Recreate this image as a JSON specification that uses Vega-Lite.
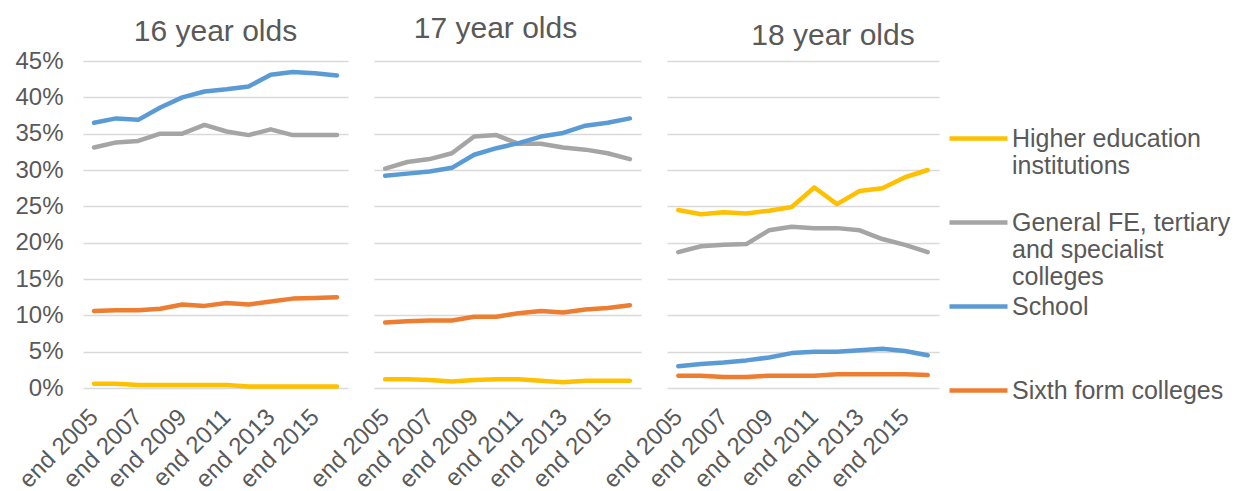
{
  "$schema": "https://vega.github.io/schema/vega-lite/v6.json",
  "background": "white",
  "padding": {"left": 14, "top": 14, "right": 5, "bottom": 0},
  "bounds": "flush",
  "spacing": 26,
  "config": {
    "view": {"stroke": null},
    "font": "Liberation Sans",
    "title": {"fontSize": 30, "fontWeight": "normal", "color": "#595959", "baseline": "alphabetic", "anchor": "middle"},
    "axis": {"labelFont": "Liberation Sans", "labelFontSize": 24, "labelColor": "#595959", "title": null, "ticks": false, "domain": false},
    "line": {"strokeWidth": 4.5, "strokeCap": "round", "strokeJoin": "round"}
  },
  "datasets": {
    "enrolment": [
      {"age": 16, "year": "end 2005", "type": "Higher education institutions", "share": 0.6},
      {"age": 16, "year": "end 2006", "type": "Higher education institutions", "share": 0.6},
      {"age": 16, "year": "end 2007", "type": "Higher education institutions", "share": 0.4},
      {"age": 16, "year": "end 2008", "type": "Higher education institutions", "share": 0.4},
      {"age": 16, "year": "end 2009", "type": "Higher education institutions", "share": 0.4},
      {"age": 16, "year": "end 2010", "type": "Higher education institutions", "share": 0.4},
      {"age": 16, "year": "end 2011", "type": "Higher education institutions", "share": 0.4},
      {"age": 16, "year": "end 2012", "type": "Higher education institutions", "share": 0.2},
      {"age": 16, "year": "end 2013", "type": "Higher education institutions", "share": 0.2},
      {"age": 16, "year": "end 2014", "type": "Higher education institutions", "share": 0.2},
      {"age": 16, "year": "end 2015", "type": "Higher education institutions", "share": 0.2},
      {"age": 16, "year": "end 2016", "type": "Higher education institutions", "share": 0.2},
      {"age": 16, "year": "end 2005", "type": "General FE, tertiary and specialist colleges", "share": 33.1},
      {"age": 16, "year": "end 2006", "type": "General FE, tertiary and specialist colleges", "share": 33.8},
      {"age": 16, "year": "end 2007", "type": "General FE, tertiary and specialist colleges", "share": 34.0},
      {"age": 16, "year": "end 2008", "type": "General FE, tertiary and specialist colleges", "share": 35.0},
      {"age": 16, "year": "end 2009", "type": "General FE, tertiary and specialist colleges", "share": 35.0},
      {"age": 16, "year": "end 2010", "type": "General FE, tertiary and specialist colleges", "share": 36.2},
      {"age": 16, "year": "end 2011", "type": "General FE, tertiary and specialist colleges", "share": 35.3},
      {"age": 16, "year": "end 2012", "type": "General FE, tertiary and specialist colleges", "share": 34.8},
      {"age": 16, "year": "end 2013", "type": "General FE, tertiary and specialist colleges", "share": 35.6},
      {"age": 16, "year": "end 2014", "type": "General FE, tertiary and specialist colleges", "share": 34.8},
      {"age": 16, "year": "end 2015", "type": "General FE, tertiary and specialist colleges", "share": 34.8},
      {"age": 16, "year": "end 2016", "type": "General FE, tertiary and specialist colleges", "share": 34.8},
      {"age": 16, "year": "end 2005", "type": "School", "share": 36.5},
      {"age": 16, "year": "end 2006", "type": "School", "share": 37.1},
      {"age": 16, "year": "end 2007", "type": "School", "share": 36.9},
      {"age": 16, "year": "end 2008", "type": "School", "share": 38.6},
      {"age": 16, "year": "end 2009", "type": "School", "share": 40.0},
      {"age": 16, "year": "end 2010", "type": "School", "share": 40.8},
      {"age": 16, "year": "end 2011", "type": "School", "share": 41.1},
      {"age": 16, "year": "end 2012", "type": "School", "share": 41.5},
      {"age": 16, "year": "end 2013", "type": "School", "share": 43.1},
      {"age": 16, "year": "end 2014", "type": "School", "share": 43.5},
      {"age": 16, "year": "end 2015", "type": "School", "share": 43.3},
      {"age": 16, "year": "end 2016", "type": "School", "share": 43.0},
      {"age": 16, "year": "end 2005", "type": "Sixth form colleges", "share": 10.6},
      {"age": 16, "year": "end 2006", "type": "Sixth form colleges", "share": 10.7},
      {"age": 16, "year": "end 2007", "type": "Sixth form colleges", "share": 10.7},
      {"age": 16, "year": "end 2008", "type": "Sixth form colleges", "share": 10.9},
      {"age": 16, "year": "end 2009", "type": "Sixth form colleges", "share": 11.5},
      {"age": 16, "year": "end 2010", "type": "Sixth form colleges", "share": 11.3},
      {"age": 16, "year": "end 2011", "type": "Sixth form colleges", "share": 11.7},
      {"age": 16, "year": "end 2012", "type": "Sixth form colleges", "share": 11.5},
      {"age": 16, "year": "end 2013", "type": "Sixth form colleges", "share": 11.9},
      {"age": 16, "year": "end 2014", "type": "Sixth form colleges", "share": 12.3},
      {"age": 16, "year": "end 2015", "type": "Sixth form colleges", "share": 12.4},
      {"age": 16, "year": "end 2016", "type": "Sixth form colleges", "share": 12.5},

      {"age": 17, "year": "end 2005", "type": "Higher education institutions", "share": 1.2},
      {"age": 17, "year": "end 2006", "type": "Higher education institutions", "share": 1.2},
      {"age": 17, "year": "end 2007", "type": "Higher education institutions", "share": 1.1},
      {"age": 17, "year": "end 2008", "type": "Higher education institutions", "share": 0.9},
      {"age": 17, "year": "end 2009", "type": "Higher education institutions", "share": 1.1},
      {"age": 17, "year": "end 2010", "type": "Higher education institutions", "share": 1.2},
      {"age": 17, "year": "end 2011", "type": "Higher education institutions", "share": 1.2},
      {"age": 17, "year": "end 2012", "type": "Higher education institutions", "share": 1.0},
      {"age": 17, "year": "end 2013", "type": "Higher education institutions", "share": 0.8},
      {"age": 17, "year": "end 2014", "type": "Higher education institutions", "share": 1.0},
      {"age": 17, "year": "end 2015", "type": "Higher education institutions", "share": 1.0},
      {"age": 17, "year": "end 2016", "type": "Higher education institutions", "share": 1.0},
      {"age": 17, "year": "end 2005", "type": "General FE, tertiary and specialist colleges", "share": 30.2},
      {"age": 17, "year": "end 2006", "type": "General FE, tertiary and specialist colleges", "share": 31.1},
      {"age": 17, "year": "end 2007", "type": "General FE, tertiary and specialist colleges", "share": 31.5},
      {"age": 17, "year": "end 2008", "type": "General FE, tertiary and specialist colleges", "share": 32.3},
      {"age": 17, "year": "end 2009", "type": "General FE, tertiary and specialist colleges", "share": 34.6},
      {"age": 17, "year": "end 2010", "type": "General FE, tertiary and specialist colleges", "share": 34.8},
      {"age": 17, "year": "end 2011", "type": "General FE, tertiary and specialist colleges", "share": 33.6},
      {"age": 17, "year": "end 2012", "type": "General FE, tertiary and specialist colleges", "share": 33.6},
      {"age": 17, "year": "end 2013", "type": "General FE, tertiary and specialist colleges", "share": 33.1},
      {"age": 17, "year": "end 2014", "type": "General FE, tertiary and specialist colleges", "share": 32.8},
      {"age": 17, "year": "end 2015", "type": "General FE, tertiary and specialist colleges", "share": 32.3},
      {"age": 17, "year": "end 2016", "type": "General FE, tertiary and specialist colleges", "share": 31.5},
      {"age": 17, "year": "end 2005", "type": "School", "share": 29.2},
      {"age": 17, "year": "end 2006", "type": "School", "share": 29.5},
      {"age": 17, "year": "end 2007", "type": "School", "share": 29.8},
      {"age": 17, "year": "end 2008", "type": "School", "share": 30.3},
      {"age": 17, "year": "end 2009", "type": "School", "share": 32.1},
      {"age": 17, "year": "end 2010", "type": "School", "share": 33.0},
      {"age": 17, "year": "end 2011", "type": "School", "share": 33.7},
      {"age": 17, "year": "end 2012", "type": "School", "share": 34.6},
      {"age": 17, "year": "end 2013", "type": "School", "share": 35.1},
      {"age": 17, "year": "end 2014", "type": "School", "share": 36.1},
      {"age": 17, "year": "end 2015", "type": "School", "share": 36.5},
      {"age": 17, "year": "end 2016", "type": "School", "share": 37.1},
      {"age": 17, "year": "end 2005", "type": "Sixth form colleges", "share": 9.0},
      {"age": 17, "year": "end 2006", "type": "Sixth form colleges", "share": 9.2},
      {"age": 17, "year": "end 2007", "type": "Sixth form colleges", "share": 9.3},
      {"age": 17, "year": "end 2008", "type": "Sixth form colleges", "share": 9.3},
      {"age": 17, "year": "end 2009", "type": "Sixth form colleges", "share": 9.8},
      {"age": 17, "year": "end 2010", "type": "Sixth form colleges", "share": 9.8},
      {"age": 17, "year": "end 2011", "type": "Sixth form colleges", "share": 10.3},
      {"age": 17, "year": "end 2012", "type": "Sixth form colleges", "share": 10.6},
      {"age": 17, "year": "end 2013", "type": "Sixth form colleges", "share": 10.4},
      {"age": 17, "year": "end 2014", "type": "Sixth form colleges", "share": 10.8},
      {"age": 17, "year": "end 2015", "type": "Sixth form colleges", "share": 11.0},
      {"age": 17, "year": "end 2016", "type": "Sixth form colleges", "share": 11.4},

      {"age": 18, "year": "end 2005", "type": "Higher education institutions", "share": 24.5},
      {"age": 18, "year": "end 2006", "type": "Higher education institutions", "share": 23.9},
      {"age": 18, "year": "end 2007", "type": "Higher education institutions", "share": 24.2},
      {"age": 18, "year": "end 2008", "type": "Higher education institutions", "share": 24.0},
      {"age": 18, "year": "end 2009", "type": "Higher education institutions", "share": 24.4},
      {"age": 18, "year": "end 2010", "type": "Higher education institutions", "share": 24.9},
      {"age": 18, "year": "end 2011", "type": "Higher education institutions", "share": 27.6},
      {"age": 18, "year": "end 2012", "type": "Higher education institutions", "share": 25.3},
      {"age": 18, "year": "end 2013", "type": "Higher education institutions", "share": 27.1},
      {"age": 18, "year": "end 2014", "type": "Higher education institutions", "share": 27.5},
      {"age": 18, "year": "end 2015", "type": "Higher education institutions", "share": 29.0},
      {"age": 18, "year": "end 2016", "type": "Higher education institutions", "share": 30.0},
      {"age": 18, "year": "end 2005", "type": "General FE, tertiary and specialist colleges", "share": 18.7},
      {"age": 18, "year": "end 2006", "type": "General FE, tertiary and specialist colleges", "share": 19.5},
      {"age": 18, "year": "end 2007", "type": "General FE, tertiary and specialist colleges", "share": 19.7},
      {"age": 18, "year": "end 2008", "type": "General FE, tertiary and specialist colleges", "share": 19.8},
      {"age": 18, "year": "end 2009", "type": "General FE, tertiary and specialist colleges", "share": 21.7},
      {"age": 18, "year": "end 2010", "type": "General FE, tertiary and specialist colleges", "share": 22.2},
      {"age": 18, "year": "end 2011", "type": "General FE, tertiary and specialist colleges", "share": 22.0},
      {"age": 18, "year": "end 2012", "type": "General FE, tertiary and specialist colleges", "share": 22.0},
      {"age": 18, "year": "end 2013", "type": "General FE, tertiary and specialist colleges", "share": 21.7},
      {"age": 18, "year": "end 2014", "type": "General FE, tertiary and specialist colleges", "share": 20.5},
      {"age": 18, "year": "end 2015", "type": "General FE, tertiary and specialist colleges", "share": 19.7},
      {"age": 18, "year": "end 2016", "type": "General FE, tertiary and specialist colleges", "share": 18.7},
      {"age": 18, "year": "end 2005", "type": "School", "share": 3.0},
      {"age": 18, "year": "end 2006", "type": "School", "share": 3.3},
      {"age": 18, "year": "end 2007", "type": "School", "share": 3.5},
      {"age": 18, "year": "end 2008", "type": "School", "share": 3.8},
      {"age": 18, "year": "end 2009", "type": "School", "share": 4.2},
      {"age": 18, "year": "end 2010", "type": "School", "share": 4.8},
      {"age": 18, "year": "end 2011", "type": "School", "share": 5.0},
      {"age": 18, "year": "end 2012", "type": "School", "share": 5.0},
      {"age": 18, "year": "end 2013", "type": "School", "share": 5.2},
      {"age": 18, "year": "end 2014", "type": "School", "share": 5.4},
      {"age": 18, "year": "end 2015", "type": "School", "share": 5.1},
      {"age": 18, "year": "end 2016", "type": "School", "share": 4.5},
      {"age": 18, "year": "end 2005", "type": "Sixth form colleges", "share": 1.7},
      {"age": 18, "year": "end 2006", "type": "Sixth form colleges", "share": 1.7},
      {"age": 18, "year": "end 2007", "type": "Sixth form colleges", "share": 1.5},
      {"age": 18, "year": "end 2008", "type": "Sixth form colleges", "share": 1.5},
      {"age": 18, "year": "end 2009", "type": "Sixth form colleges", "share": 1.7},
      {"age": 18, "year": "end 2010", "type": "Sixth form colleges", "share": 1.7},
      {"age": 18, "year": "end 2011", "type": "Sixth form colleges", "share": 1.7},
      {"age": 18, "year": "end 2012", "type": "Sixth form colleges", "share": 1.9},
      {"age": 18, "year": "end 2013", "type": "Sixth form colleges", "share": 1.9},
      {"age": 18, "year": "end 2014", "type": "Sixth form colleges", "share": 1.9},
      {"age": 18, "year": "end 2015", "type": "Sixth form colleges", "share": 1.9},
      {"age": 18, "year": "end 2016", "type": "Sixth form colleges", "share": 1.8}
    ]
  },
  "data": {"name": "enrolment"},
  "resolve": {"scale": {"x": "independent", "y": "shared", "color": "shared"}, "legend": {"color": "shared"}},
  "hconcat": [
    {
      "width": 265,
      "height": 327,
      "title": {"text": "16 year olds", "offset": 2, "dx": 0},
      "transform": [{"filter": "datum.age == 16"}],
      "mark": {"type": "line"},
      "encoding": {
        "x": {"field": "year", "type": "ordinal", "sort": null, "scale": {"type": "point", "padding": 0.5},
              "axis": {"values": ["end 2005", "end 2007", "end 2009", "end 2011", "end 2013", "end 2015"], "labelAngle": -45, "labelAlign": "right", "labelBaseline": "middle", "labelPadding": 25, "grid": false}},
        "y": {"field": "share", "type": "quantitative", "scale": {"domain": [0, 45], "nice": false},
              "axis": {"values": [0, 5, 10, 15, 20, 25, 30, 35, 40, 45], "labelExpr": "datum.value + '%'", "labelPadding": 20, "grid": true, "gridColor": "#d9d9d9", "gridWidth": 1.5}},
        "color": {"field": "type", "type": "nominal",
                  "scale": {"domain": ["Higher education institutions", "General FE, tertiary and specialist colleges", "School", "Sixth form colleges"], "range": ["#FFC000", "#A5A5A5", "#5B9BD5", "#ED7D31"]},
                  "legend": {"title": null, "orient": "none", "legendX": 883, "legendY": 65, "padding": 0,
                             "symbolType": "M-14.5,0H14.5", "symbolSize": 16, "symbolStrokeWidth": 5.5,
                             "labelFontSize": 25, "labelColor": "#595959", "labelLimit": 400, "labelOffset": 21,
                             "labelBaseline": "middle", "rowPadding": 4,
                             "labelExpr": "datum.label == 'Higher education institutions' ? ['Higher education', 'institutions', ''] : datum.label == 'General FE, tertiary and specialist colleges' ? ['General FE, tertiary', 'and specialist', 'colleges'] : [datum.label, '', '']",
                             "encode": {"labels": {"update": {"lineHeight": {"value": 28}, "dy": {"value": 28}}}}}}
      }
    },
    {
      "width": 267,
      "height": 327,
      "title": {"text": "17 year olds", "offset": 17, "dx": -12},
      "transform": [{"filter": "datum.age == 17"}],
      "mark": {"type": "line"},
      "encoding": {
        "x": {"field": "year", "type": "ordinal", "sort": null, "scale": {"type": "point", "padding": 0.5},
              "axis": {"values": ["end 2005", "end 2007", "end 2009", "end 2011", "end 2013", "end 2015"], "labelAngle": -45, "labelAlign": "right", "labelBaseline": "middle", "labelPadding": 25, "grid": false}},
        "y": {"field": "share", "type": "quantitative", "scale": {"domain": [0, 45], "nice": false},
              "axis": {"values": [0, 5, 10, 15, 20, 25, 30, 35, 40, 45], "labels": false, "grid": true, "gridColor": "#d9d9d9", "gridWidth": 1.5}},
        "color": {"field": "type", "type": "nominal"}
      }
    },
    {
      "width": 272,
      "height": 327,
      "title": {"text": "18 year olds", "offset": 10, "dx": 30},
      "transform": [{"filter": "datum.age == 18"}],
      "mark": {"type": "line"},
      "encoding": {
        "x": {"field": "year", "type": "ordinal", "sort": null, "scale": {"type": "point", "padding": 0.5},
              "axis": {"values": ["end 2005", "end 2007", "end 2009", "end 2011", "end 2013", "end 2015"], "labelAngle": -45, "labelAlign": "right", "labelBaseline": "middle", "labelPadding": 25, "grid": false}},
        "y": {"field": "share", "type": "quantitative", "scale": {"domain": [0, 45], "nice": false},
              "axis": {"values": [0, 5, 10, 15, 20, 25, 30, 35, 40, 45], "labels": false, "grid": true, "gridColor": "#d9d9d9", "gridWidth": 1.5}},
        "color": {"field": "type", "type": "nominal"}
      }
    }
  ]
}
